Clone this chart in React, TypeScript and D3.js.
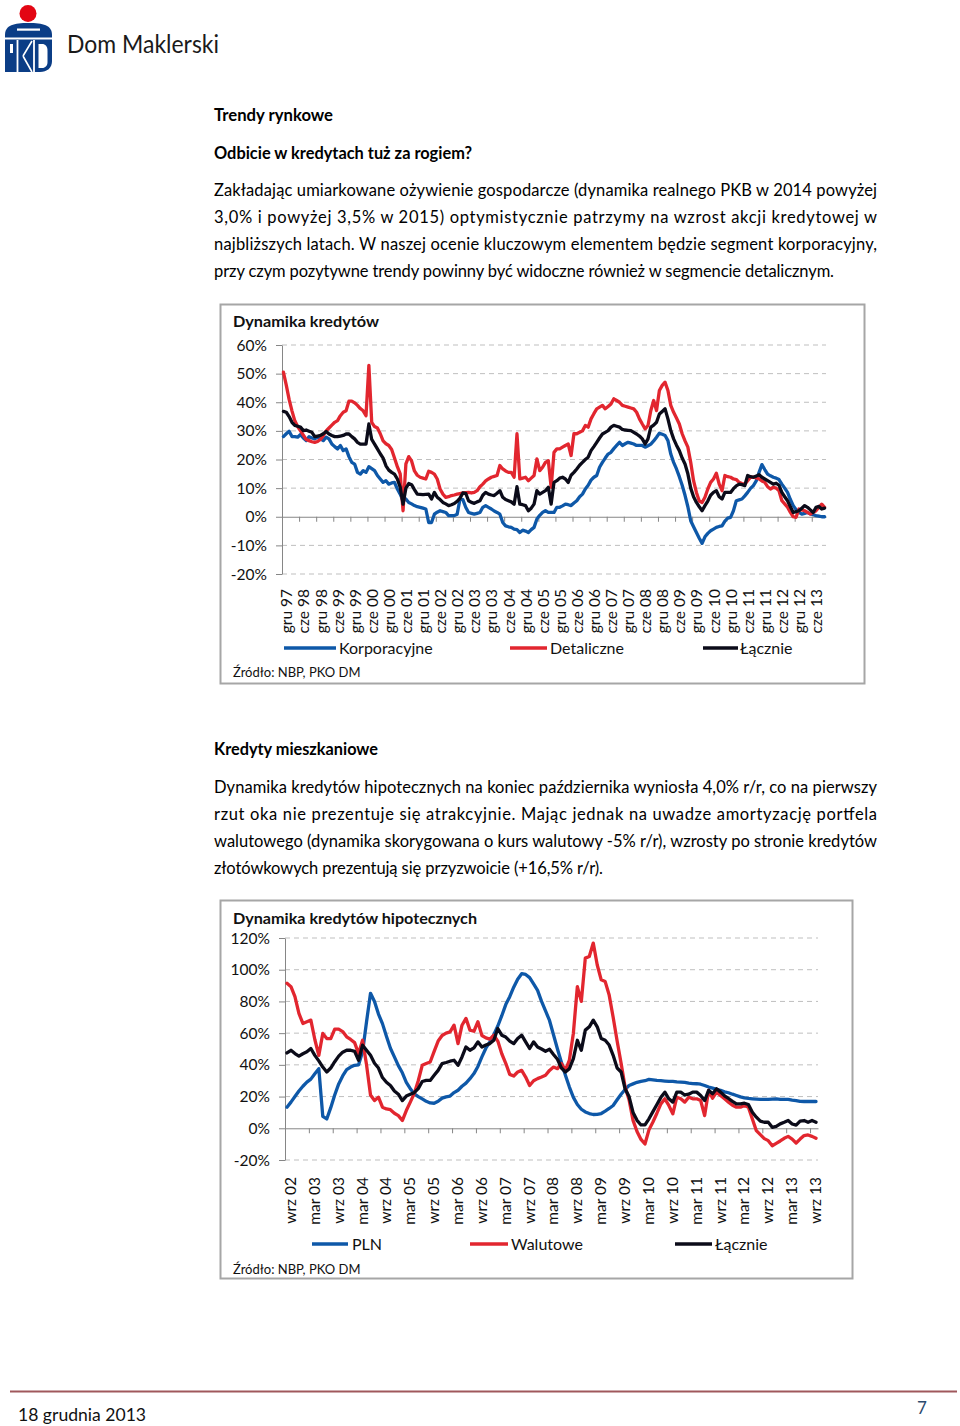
import React, { useEffect, useRef } from "react";
import * as d3 from "d3";

const FONT = "Lato, 'Open Sans', sans-serif";
const BLUE = "#0e58a8";
const RED = "#e2262f";
const BLACK = "#0b0b19";

// ---- wykres 1: Dynamika kredytów (miesięcznie, gru 97 - paź 13)
const labels1 = [
  "gru 97", "cze 98", "gru 98", "cze 99", "gru 99", "cze 00", "gru 00", "cze 01",
  "gru 01", "cze 02", "gru 02", "cze 03", "gru 03", "cze 04", "gru 04", "cze 05",
  "gru 05", "cze 06", "gru 06", "cze 07", "gru 07", "cze 08", "gru 08", "cze 09",
  "gru 09", "cze 10", "gru 10", "cze 11", "gru 11", "cze 12", "gru 12", "cze 13",
];

const korporacyjne = [
  28, 29, 29.9, 28, 28, 27.8, 28.7, 27.5, 26.6, 28, 27.5, 27.2,
  27.8, 27.2, 26.6, 27.8, 27.2, 25.4, 24.5, 23.7, 24.9, 23.1, 23.7, 21,
  19, 18.4, 15.5, 14.9, 16.1, 15.5, 17.5, 16.8, 16.1, 14.4, 13.2, 12,
  12.6, 11.4, 11.8, 12, 9.7, 7.9, 5.6, 6.2, 5, 4.5, 3.9, 3.5,
  3.3, 3, 2.7, -2, -2, 0.9, 1.6, 2.1, 1.8, 1.5, 0.4, 0.4,
  0.4, 0.9, 6.2, 6, 3.3, 1.5, 1.2, 0.9, 1.2, 1.5, 3.3, 3.9,
  3.3, 2.7, 2, 1.5, 0.9, -2, -3.2, -3.5, -3.7, -4.3, -4.5, -5.5,
  -4.7, -5, -5.5, -4.5, -3.7, -0.8, 0.5, 1.5, 2.1, 1.5, 1.5, 1.5,
  3.3, 3.3, 3.8, 4.4, 4.2, 3.9, 4.8, 5.6, 7, 7.9, 9.7, 11,
  12.8, 13.8, 14.4, 17.3, 19, 20.5, 21.9, 22.5, 23.8, 24.9, 26, 24.9,
  25.5, 26, 25.7, 25.4, 24.9, 24.9, 24.9, 24.3, 24.8, 25.4, 26.5, 27.8,
  29.2, 28.8, 28.4, 26.6, 21.9, 19, 16.7, 14, 11, 7.5, 3.5, -1.4,
  -3.5, -5.5, -7.5, -9.3, -7, -5.8, -4.9, -4.3, -3.7, -3.4, -3.2, -1.5,
  -0.5, -0.2, 2.1, 5.6, 5.9, 6.2, 7.3, 8.5, 9.9, 10.9, 12.5, 15.5,
  18.2, 16.5, 14.9, 14.3, 13.8, 13.5, 13, 11.4, 10, 8.5, 6, 3.9,
  2.5, 1.5, 0.9, 1.2, 1.5, 1, 0.7, 0.4, 0.2, 0, 0,
];

const detaliczne = [
  50.5, 46, 41, 37, 33.5, 31.5, 30, 28.5, 27, 26.6, 26.2, 26,
  26.3, 27, 28.3, 30, 31, 32, 33, 33.6, 35.3, 36.5, 37, 40.4,
  40.4, 39.8, 38.9, 37.8, 37, 35.3, 52.9, 33, 31.5, 31, 29, 26.5,
  25.5, 24.9, 23.5, 20.5, 17.5, 15, 2.1, 18.5, 21, 19.5, 16, 14.5,
  13.8, 13.5, 13.2, 15.9, 15.5, 14.9, 13.2, 9.7, 7.9, 6.8, 7, 7.4,
  7.6, 7.9, 8.1, 8.3, 8.4, 8.5, 8.3, 8.5, 9.1, 10.5, 11.4, 12.5,
  13.2, 13.8, 14.1, 14.4, 17.9, 16.7, 16, 15.5, 15.5, 13.8, 29, 13.2,
  13.5, 13.8, 12.6, 13.5, 14.4, 20.2, 16.1, 17.3, 19, 19.6, 10.3, 22.5,
  23.7, 23.7, 24.3, 24.9, 25.4, 21.4, 29, 29, 29.5, 30, 31.9, 31.3,
  34.2, 36, 37.7, 38.3, 38.9, 37.7, 38.5, 39.4, 41.2, 40.6, 40, 38.9,
  38.6, 38.3, 38, 37.7, 36.5, 34.2, 32.4, 30.7, 31.9, 37.1, 40.6, 37.1,
  44.1, 45.9, 47, 44.1, 38.9, 36.5, 34.5, 32.4, 29, 26.5, 24.3, 19,
  12.6, 8.5, 5.5, 5, 6.8, 9.7, 12, 13.2, 15.2, 11.4, 9.1, 14.4,
  14, 13.8, 13.2, 13, 12, 11.6, 11.4, 12.6, 13.8, 13.8, 13.6, 13.2,
  12.5, 12, 10.5, 9.7, 10.3, 10, 9.1, 5.6, 4.5, 3.3, 1.5, 0,
  -0.2, 2.7, 2.4, 2.1, 1.5, 0.9, 1.5, 2.1, 3.3, 4.4, 3.3,
];

const lacznie1 = [
  36.8, 36.5, 35, 33, 31.9, 31.6, 31.3, 30.1, 30.3, 29.9, 29.5, 28,
  28.2, 28.4, 29, 29.8, 28.9, 28.4, 28, 28, 28.2, 28.4, 28.9, 28.9,
  28, 27.2, 26, 25.4, 25.4, 25.4, 32.4, 27, 25.4, 23.7, 22, 20.5,
  17.8, 16.3, 15.5, 14.9, 13.2, 10.3, 4.4, 10, 11.6, 11.2, 9.5, 7.9,
  7.8, 7.7, 7.8, 7.9, 6.2, 8.5, 6.8, 6, 5, 4.5, 3.9, 4.2,
  4.6, 5.4, 6.5, 8.3, 8.2, 5.6, 5, 4.7, 5.2, 5.6, 7.5, 8.5,
  7.9, 7.6, 7.4, 8.2, 9.1, 6.8, 6, 5.6, 5.2, 4.4, 10.5, 4.4,
  4.2, 3.9, 2.1, 3, 4.4, 9.1, 7.9, 8.5, 9.1, 10.3, 4.4, 12,
  12.6, 13.5, 13.8, 13.2, 12, 14.5, 15.5, 16.7, 18, 19, 20, 20.8,
  23.1, 24.5, 26, 27.5, 28.9, 29.5, 30.1, 31.3, 31.9, 31.6, 31.3, 30.5,
  30.3, 30.2, 30.1, 29.5, 28.9, 28.2, 27.2, 25.4, 27.2, 31.3, 32, 33,
  35.9, 36.8, 37.7, 34.2, 30.1, 27.2, 25, 23.1, 20.5, 18.4, 15, 10,
  7, 5, 3.5, 2.1, 3.9, 5.5, 7.5, 8.5, 9.1, 7, 6.2, 8.5,
  8.5, 8.5, 9.8, 10.8, 11.4, 11.2, 10.9, 14.4, 14, 13.8, 14.2, 14.7,
  13.8, 13.2, 12.6, 12, 11.4, 11.7, 11, 8.5, 7, 5.6, 3.5, 1.5,
  1.8, 2.1, 3, 3.9, 3.3, 2.4, 1.5, 3.3, 3.6, 2.7, 3,
];

// ---- wykres 2: Dynamika kredytów hipotecznych (miesięcznie, wrz 02 - paź 13)
const labels2 = [
  "wrz 02", "mar 03", "wrz 03", "mar 04", "wrz 04", "mar 05", "wrz 05", "mar 06",
  "wrz 06", "mar 07", "wrz 07", "mar 08", "wrz 08", "mar 09", "wrz 09", "mar 10",
  "wrz 10", "mar 11", "wrz 11", "mar 12", "wrz 12", "mar 13", "wrz 13",
];

const pln = [
  13.3, 16.5, 20, 23.5, 26.5, 29.1, 31, 34.4, 37.6, 7.5, 5.9, 13,
  21, 28, 33, 37, 38.6, 39.7, 40, 48.2, 67.2, 85.1, 80, 72,
  66, 58, 50.5, 45, 39.5, 35, 29, 25, 21.8, 20, 18.5, 17,
  16, 15.8, 17, 19, 19.8, 20.3, 22.5, 24, 26.5, 28.5, 31.3, 34.5,
  39, 45, 50.5, 54.5, 59, 64.5, 71, 78, 83, 89, 94, 97.5,
  97, 95, 91, 87, 80, 74, 68, 59, 50, 41.5, 33.5, 26,
  19.5, 15, 12, 10.3, 9.3, 8.7, 8.8, 9.3, 10.8, 12.5, 14.4, 18,
  21.5, 24.5, 27, 28, 29, 29.6, 30, 30.8, 30.5, 30.2, 30, 29.8,
  29.6, 29.6, 29.3, 29.1, 28.9, 28.5, 28.2, 28.1, 27.8, 27, 26, 25.3,
  24.5, 23.9, 23, 22.4, 21.5, 20.7, 19.8, 19.2, 18.8, 18.6, 18.4, 18.2,
  18.2, 18.2, 18.4, 18.6, 18.2, 18.2, 18.2, 17.8, 17.5, 17, 16.9, 16.9, 16.9, 16.9,
];

const walutowe = [
  91.4, 89.3, 83, 72.4, 66.1, 67.2, 68.2, 56, 46, 59.8, 56.6, 56.6,
  62.5, 62.5, 61, 57.7, 56, 54, 47.1, 55.5, 40, 21, 17.5, 19.6,
  13.3, 12.2, 11.7, 9.5, 8, 4.9, 11.2, 16.5, 22, 30, 39.7, 40.8,
  41.8, 48.5, 55, 58.5, 60, 60.8, 65, 53.4, 65, 69.3, 61.9, 61.2,
  67.2, 58.5, 57, 56.2, 58.7, 55, 47, 41, 34, 33, 35.5, 36.5,
  32.3, 27, 30, 31.3, 32.3, 33.4, 36.5, 38.6, 37.6, 40.8, 36.5, 43,
  60, 89.3, 80, 107.3, 108.3, 116.8, 103, 93.6, 92.5, 84, 70, 55,
  41, 26, 18, 5, -2, -7, -9.9, -1, 4, 9.5, 15.4, 18.6,
  14.4, 9.1, 19.6, 18.6, 16.5, 19.6, 18.6, 18.6, 17.5, 8, 23.9, 19,
  22.8, 20.7, 18.6, 16.5, 14.5, 13.3, 13.3, 14.4, 13.3, 5.9, -1.5, -4,
  -6.5, -7.8, -11, -9.5, -8, -6.3, -5.1, -6.8, -9.3, -6.8, -4.6, -4.2, -5.1, -6.3,
];

const lacznie2 = [
  47.5, 49.2, 47.1, 45.5, 47, 48.2, 50.3, 46, 42.5, 38.6, 35.5, 38,
  42, 45.5, 48, 49.2, 49.2, 48.5, 42.9, 52.4, 49.2, 46, 41, 38,
  32, 29, 27, 23.5, 21.5, 17.5, 20.3, 21.5, 22.5, 25, 29.5, 30.2,
  30.2, 33.4, 36.5, 40.8, 41.5, 42.3, 42.9, 39.7, 45, 51.3, 49.2, 50.7,
  54.5, 51.3, 52.5, 53.4, 55.5, 62.9, 58.7, 57.5, 55, 53.4, 56.6, 58.7,
  54.5, 50.3, 54.5, 51.3, 50, 48.6, 49.8, 46.5, 43.5, 38, 35.5, 37.6,
  43.9, 55.5, 49.2, 61.9, 64, 68.2, 64, 56.6, 55.5, 52.5, 46, 38,
  35.5, 24.9, 20, 10, 5, 2.1, 2.1, 6, 10.5, 15, 19.5, 22.8,
  18.6, 16.5, 22.8, 22.8, 21, 21.5, 22.8, 22.8, 20.7, 17.5, 23.9, 21.8,
  24.9, 22.8, 20.5, 18.8, 17, 15.4, 15.4, 15.8, 15, 10.1, 7, 4.5,
  3.8, 3.8, 0.6, 1.2, 2.8, 3.8, 4.9, 2.7, 2, 4.5, 4.9, 3.8, 4.9, 3.8,
];

const para1 = [
  "Zakładając umiarkowane ożywienie gospodarcze (dynamika realnego PKB w 2014 powyżej",
  "3,0% i powyżej 3,5% w 2015) optymistycznie patrzymy na wzrost akcji kredytowej w",
  "najbliższych latach. W naszej ocenie kluczowym elementem będzie segment korporacyjny,",
  "przy czym pozytywne trendy powinny być widoczne również w segmencie detalicznym.",
];
const para2 = [
  "Dynamika kredytów hipotecznych na koniec października wyniosła 4,0% r/r, co na pierwszy",
  "rzut oka nie prezentuje się atrakcyjnie. Mając jednak na uwadze amortyzację portfela",
  "walutowego (dynamika skorygowana o kurs walutowy -5% r/r), wzrosty po stronie kredytów",
  "złotówkowych prezentują się przyzwoicie (+16,5% r/r).",
];

interface Series { name: string; color: string; values: number[] }
interface ChartCfg {
  box: [number, number, number, number];
  title: string;
  titleY: number;
  titleLen: number;
  yDomain: [number, number];
  yStep: number;
  yRange: [number, number];
  yLabelX: number;
  xRange: [number, number];
  xLabels: string[];
  xLabelTop: number;
  legendY: number;
  legend: { x1: number; x2: number; tx: number }[];
  sourceY: number;
  series: Series[];
}

const chart1: ChartCfg = {
  box: [220.5, 304.5, 644, 379],
  title: "Dynamika kredytów",
  titleY: 326.5,
  titleLen: 146,
  yDomain: [-20, 60],
  yStep: 10,
  yRange: [574, 345],
  yLabelX: 267,
  xRange: [282, 826],
  xLabels: labels1,
  xLabelTop: 589,
  legendY: 648,
  legend: [
    { x1: 284, x2: 336, tx: 339 },
    { x1: 510, x2: 547, tx: 550 },
    { x1: 703, x2: 738, tx: 740 },
  ],
  sourceY: 677,
  series: [
    { name: "Korporacyjne", color: BLUE, values: korporacyjne },
    { name: "Detaliczne", color: RED, values: detaliczne },
    { name: "Łącznie", color: BLACK, values: lacznie1 },
  ],
};

const chart2: ChartCfg = {
  box: [220.5, 900.5, 632, 378],
  title: "Dynamika kredytów hipotecznych",
  titleY: 923.5,
  titleLen: 244,
  yDomain: [-20, 120],
  yStep: 20,
  yRange: [1160, 938],
  yLabelX: 270,
  xRange: [285, 818],
  xLabels: labels2,
  xLabelTop: 1177,
  legendY: 1244,
  legend: [
    { x1: 312, x2: 348, tx: 352 },
    { x1: 470, x2: 508, tx: 511 },
    { x1: 675, x2: 712, tx: 715 },
  ],
  sourceY: 1274,
  series: [
    { name: "PLN", color: BLUE, values: pln },
    { name: "Walutowe", color: RED, values: walutowe },
    { name: "Łącznie", color: BLACK, values: lacznie2 },
  ],
};

function drawChart(root: any, c: ChartCfg) {
  const g = root.append("g");
  const n = c.series[0].values.length;
  const band = d3.scaleBand<number>().domain(d3.range(n)).range(c.xRange);
  const cx = (i: number) => (band(i) ?? 0) + band.bandwidth() / 2;
  const edge = d3.scaleLinear().domain([0, n]).range(c.xRange);
  const y = d3.scaleLinear().domain(c.yDomain).range(c.yRange);
  const yTicks = d3.range(c.yDomain[0], c.yDomain[1] + c.yStep / 2, c.yStep);

  g.append("rect")
    .attr("x", c.box[0]).attr("y", c.box[1])
    .attr("width", c.box[2]).attr("height", c.box[3])
    .attr("fill", "#fff").attr("stroke", "#a6a6a6").attr("stroke-width", 2);

  g.append("text")
    .attr("x", 233).attr("y", c.titleY)
    .attr("font-size", 16).attr("font-weight", 700).attr("fill", "#111")
    .attr("textLength", c.titleLen).attr("lengthAdjust", "spacingAndGlyphs")
    .text(c.title);

  // siatka
  g.append("g").selectAll("line")
    .data(yTicks.filter(t => t !== 0))
    .join("line")
    .attr("x1", c.xRange[0]).attr("x2", c.xRange[1])
    .attr("y1", (d: number) => y(d)).attr("y2", (d: number) => y(d))
    .attr("stroke", "#bfbfbf").attr("stroke-dasharray", "5,4");

  const ya = g.append("g")
    .attr("transform", `translate(${c.xRange[0]},0)`)
    .call(d3.axisLeft(y).tickValues(yTicks).tickSize(6).tickSizeOuter(0).tickFormat(() => ""));
  ya.select(".domain").attr("stroke", "#868686");
  ya.selectAll(".tick line").attr("stroke", "#868686");

  g.append("g").selectAll("text")
    .data(yTicks)
    .join("text")
    .attr("x", c.yLabelX).attr("y", (d: number) => y(d)).attr("dy", "0.36em")
    .attr("text-anchor", "end").attr("font-size", 15.5).attr("fill", "#111")
    .text((d: number) => `${d}%`);

  const xa = g.append("g")
    .attr("transform", `translate(0,${y(0)})`)
    .call(d3.axisBottom(edge).tickValues(d3.range(0, n, 6)).tickSize(5).tickSizeOuter(0).tickFormat(() => ""));
  xa.select(".domain").attr("stroke", "#868686");
  xa.selectAll(".tick line").attr("stroke", "#868686");

  g.append("g").selectAll("text")
    .data(c.xLabels)
    .join("text")
    .attr("transform", (_d: string, k: number) => `translate(${cx(k * 6) + 3.5},${c.xLabelTop}) rotate(-90)`)
    .attr("dy", "0.35em").attr("text-anchor", "end")
    .attr("font-size", 15.5).attr("fill", "#111")
    .text((d: string) => d);

  const line = d3.line<number>().x((_v, i) => cx(i)).y(v => y(v));
  g.append("g").selectAll("path")
    .data(c.series)
    .join("path")
    .attr("d", (s: Series) => line(s.values))
    .attr("fill", "none")
    .attr("stroke", (s: Series) => s.color)
    .attr("stroke-width", 3.3)
    .attr("stroke-linejoin", "round")
    .attr("stroke-linecap", "round");

  c.legend.forEach((L, k) => {
    g.append("line")
      .attr("x1", L.x1).attr("x2", L.x2)
      .attr("y1", c.legendY).attr("y2", c.legendY)
      .attr("stroke", c.series[k].color).attr("stroke-width", 3.5);
    g.append("text")
      .attr("x", L.tx).attr("y", c.legendY).attr("dy", "0.36em")
      .attr("font-size", 16).attr("fill", "#111")
      .text(c.series[k].name);
  });

  g.append("text")
    .attr("x", 233).attr("y", c.sourceY)
    .attr("font-size", 13).attr("fill", "#111")
    .text("Źródło: NBP, PKO DM");
}

export default function App() {
  const ref = useRef<SVGSVGElement | null>(null);

  useEffect(() => {
    if (!ref.current) return;
    const svg = d3.select(ref.current);
    svg.selectAll("g.charts").remove();
    const root = svg.append("g").attr("class", "charts");
    drawChart(root, chart1);
    drawChart(root, chart2);
  }, []);

  return (
    <svg
      ref={ref}
      width={960}
      height={1426}
      style={{ position: "absolute", left: 0, top: 0, background: "#fff" }}
      fontFamily={FONT}
    >
      {/* logo */}
      <g>
        <circle cx={28} cy={13.5} r={8.5} fill="#e30613" />
        <path d="M5,72 V35 C5,25 14,23 28.5,23 C43,23 52,25 52,35 V61 C52,68 47,72 40,72 Z" fill="#0b3d86" />
        <rect x={17} y={28.5} width={23} height={2.2} fill="#fff" />
        <path d="M5,38.5 H52" stroke="#fff" strokeWidth={1.8} />
        <path d="M17.5,40 V72 M34,40 V72" stroke="#fff" strokeWidth={1.8} />
        <path d="M23,56 L32,41 M23,56 L32,72" stroke="#fff" strokeWidth={1.6} fill="none" />
        <rect x={10} y={44} width={3} height={9} fill="#fff" />
        <path d="M38.5,44 H42 C45.5,44 47.5,46.5 47.5,50.5 V62 C47.5,65.5 45.5,68 42,68 H38.5 Z" fill="#fff" />
      </g>
      <text x={67} y={53} fontSize={25} fill="#1a1a1a" textLength={152} lengthAdjust="spacingAndGlyphs">
        Dom Maklerski
      </text>

      <text x={214} y={121} fontSize={16.5} fontWeight={700} textLength={119} lengthAdjust="spacingAndGlyphs">Trendy rynkowe</text>
      <text x={214} y={159} fontSize={16.5} fontWeight={700} textLength={258} lengthAdjust="spacingAndGlyphs">
        Odbicie w kredytach tuż za rogiem?
      </text>
      {para1.map((t, i) => (
        <text key={i} x={214} y={195.5 + i * 27} fontSize={16.5} textLength={i < 3 ? 663 : 620} lengthAdjust="spacing">
          {t}
        </text>
      ))}

      <text x={214} y={755} fontSize={16.5} fontWeight={700} textLength={164} lengthAdjust="spacingAndGlyphs">
        Kredyty mieszkaniowe
      </text>
      {para2.map((t, i) => (
        <text key={i} x={214} y={792.5 + i * 27} fontSize={16.5} textLength={i < 3 ? 663 : 389} lengthAdjust="spacing">
          {t}
        </text>
      ))}

      {/* stopka */}
      <line x1={10} x2={957} y1={1391.5} y2={1391.5} stroke="#a0585c" strokeWidth={2} />
      <text x={18} y={1421} fontSize={17} fill="#111" textLength={128} lengthAdjust="spacingAndGlyphs">
        18 grudnia 2013
      </text>
      <text x={917} y={1414} fontSize={17} fill="#2c4a6e">7</text>
    </svg>
  );
}
